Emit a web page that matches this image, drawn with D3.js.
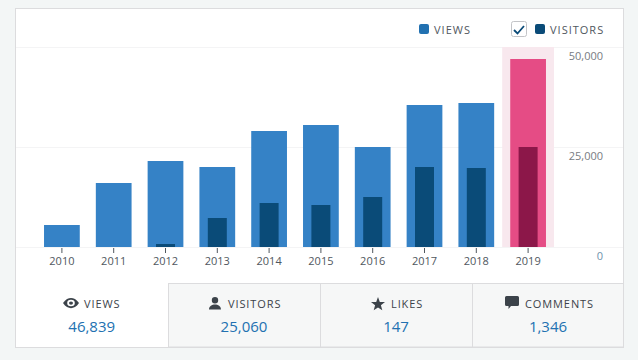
<!DOCTYPE html>
<html>
<head>
<meta charset="utf-8">
<script src="https://cdn.jsdelivr.net/npm/d3@7"></script>
<style>
html, body { margin: 0; padding: 0; background: #f3f6f6; }
svg { display: block; overflow: visible; font-family: "Open Sans", sans-serif; }
</style>
</head>
<body>
<div id="chart"></div>
<script>
const years = ["2010","2011","2012","2013","2014","2015","2016","2017","2018","2019"];
const views = [5500, 16000, 21500, 20000, 29000, 30500, 25000, 35500, 36000, 47000];
const visitors = [0, 0, 750, 7250, 11000, 10500, 12500, 20000, 19750, 25000];
const yTicks = [0, 25000, 50000];
const highlightYear = "2019";
const tabLabels = ["VIEWS", "VISITORS", "LIKES", "COMMENTS"];
const tabValues = ["46,839", "25,060", "147", "1,346"];

const width = 638, height = 360;
const border = "#dcdcde";

const svg = d3.select("#chart").append("svg")
    .attr("width", width)
    .attr("height", height);

// card
svg.append("rect")
    .attr("x", 15.5).attr("y", 8.5)
    .attr("width", 608).attr("height", 339)
    .attr("fill", "#fff")
    .attr("stroke", border);

const xScale = d3.scaleBand()
    .domain(years)
    .range([36, 554])
    .paddingInner(0.31)
    .paddingOuter(0.155);

const yScale = d3.scaleLinear()
    .domain([0, 50000])
    .range([247, 47]);

/* grid */
svg.append("g")
    .selectAll("line")
    .data(yTicks)
    .enter().append("line")
    .attr("x1", 16).attr("x2", 623)
    .attr("y1", d => yScale(d) + 0.5)
    .attr("y2", d => yScale(d) + 0.5)
    .attr("stroke", "#f4f4f5");

/* highlight band */
svg.append("rect")
    .attr("x", xScale.step() * years.indexOf(highlightYear) + 36)
    .attr("y", yScale(50000))
    .attr("width", xScale.step())
    .attr("height", yScale(0) - yScale(50000))
    .attr("fill", "#f8e8ee");

/* bars */
svg.append("g")
    .selectAll("rect")
    .data(years)
    .enter().append("rect")
    .attr("x", d => xScale(d))
    .attr("y", (d, i) => yScale(views[i]))
    .attr("width", xScale.bandwidth())
    .attr("height", (d, i) => yScale(0) - yScale(views[i]))
    .attr("fill", d => d === highlightYear ? "#e54c85" : "#3582c6");

const innerWidth = 19;
svg.append("g")
    .selectAll("rect")
    .data(years)
    .enter().append("rect")
    .attr("x", d => xScale(d) + (xScale.bandwidth() - innerWidth) / 2)
    .attr("y", (d, i) => yScale(visitors[i]))
    .attr("width", innerWidth)
    .attr("height", (d, i) => yScale(0) - yScale(visitors[i]))
    .attr("fill", d => d === highlightYear ? "#8c1749" : "#0a4b78");

/* axes */
const axisX = d3.axisBottom(xScale).tickSize(5).tickPadding(4);
const gx = svg.append("g")
    .attr("transform", "translate(0, 248)")
    .call(axisX);
gx.select(".domain").remove();
gx.selectAll("line").attr("stroke", "#50575e");
gx.selectAll("text")
    .attr("font-size", 11)
    .attr("font-family", "'Open Sans', sans-serif")
    .attr("fill", "#50575e");

const axisY = d3.axisRight(yScale)
    .tickValues(yTicks)
    .tickSize(0)
    .tickFormat(d3.format(","));
const gy = svg.append("g")
    .attr("transform", "translate(570, 9)")
    .call(axisY);
gy.select(".domain").remove();
gy.selectAll("text")
    .attr("x", 33)
    .attr("text-anchor", "end")
    .attr("font-size", 11)
    .attr("font-family", "'Open Sans', sans-serif")
    .attr("fill", d => d === 0 ? "#6f93ad" : "#787c82");

/* legend */
const legend = svg.append("g").attr("font-size", 11).attr("letter-spacing", 1).attr("fill", "#50575e");
legend.append("rect").attr("x", 419).attr("y", 24).attr("width", 10).attr("height", 10).attr("rx", 2).attr("fill", "#2271b1");
legend.append("text").attr("x", 434).attr("y", 34).text("VIEWS");
legend.append("rect").attr("x", 511.5).attr("y", 21.5).attr("width", 15).attr("height", 15).attr("rx", 2)
    .attr("fill", "#fff").attr("stroke", "#c3c4c7");
legend.append("path").attr("d", "M514 30l3.500 3.500l6.500-7.500").attr("fill", "none").attr("stroke", "#0a4b78").attr("stroke-width", 1.8);
legend.append("rect").attr("x", 535).attr("y", 24).attr("width", 10).attr("height", 10).attr("rx", 2).attr("fill", "#0a4b78");
legend.append("text").attr("x", 550).attr("y", 34).text("VISITORS");

/* summary tabs */
const tabEdges = [16, 168, 320, 472, 623];
const iconPaths = [
    "M0 6C2.500 1.500 5.500 0 8 0s5.500 1.500 8 6c-2.500 4.500-5.500 6-8 6S2.500 10.500 0 6zM8 2.200A3.800 3.800 0 1 0 8 9.800A3.800 3.800 0 1 0 8 2.200zM8 4A2 2 0 1 1 8 8A2 2 0 1 1 8 4z",
    "M6 0a3.200 3.200 0 1 1 0 6.400a3.200 3.200 0 1 1 0-6.400zM0 12.500C0 9 3 7.400 6 7.400S12 9 12 12.500z",
    "M7 0l1.800 4.900l5.200.2l-4.100 3.200l1.400 5L7 10.500l-4.300 2.800l1.400-5L0 5.100l5.200-.2z",
    "M1.500 0h11A1.500 1.500 0 0 1 14 1.500v7A1.500 1.500 0 0 1 12.500 10H6l-2.500 3V10H1.500A1.500 1.500 0 0 1 0 8.500v-7A1.500 1.500 0 0 1 1.500 0z"
];
const iconX = [63, 209, 371, 505];
const iconY = [298, 297, 297, 296];
const iconScaleY = [0.85, 1, 1, 1];
const labelX = [84, 228, 391, 525];
const valueX = [91.7, 244, 396, 548];

const tabs = svg.append("g")
    .selectAll("g")
    .data(tabLabels)
    .enter().append("g");

tabs.append("rect")
    .attr("x", (d, i) => tabEdges[i] + 0.5)
    .attr("y", 283.5)
    .attr("width", (d, i) => tabEdges[i + 1] - tabEdges[i])
    .attr("height", 63.5)
    .attr("fill", (d, i) => i === 0 ? "#fff" : "#f6f7f7")
    .attr("stroke", (d, i) => i === 0 ? "none" : border);

tabs.append("path")
    .attr("d", (d, i) => iconPaths[i])
    .attr("fill", "#3c434a")
    .attr("transform", (d, i) => `translate(${iconX[i]}, ${iconY[i]}) scale(1, ${iconScaleY[i]})`);
tabs.append("text")
    .attr("x", (d, i) => labelX[i])
    .attr("y", 308)
    .attr("font-size", 11)
    .attr("letter-spacing", 0.9)
    .attr("fill", "#3c434a")
    .text(d => d);
tabs.append("text")
    .attr("x", (d, i) => valueX[i])
    .attr("y", 332)
    .attr("text-anchor", "middle")
    .attr("font-size", 15)
    .attr("fill", "#2271b1")
    .text((d, i) => tabValues[i]);
</script>
</body>
</html>
